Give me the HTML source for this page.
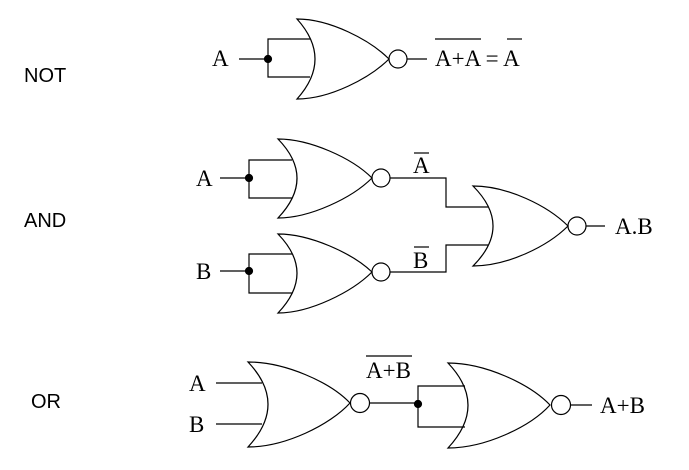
<!DOCTYPE html>
<html><head><style>
html,body{margin:0;padding:0;background:#fff;width:689px;height:470px;overflow:hidden}
svg{display:block}
.s{font-family:"Liberation Sans",sans-serif;font-size:20px}
.r{font-family:"Liberation Serif",serif;font-size:23px}
</style></head><body>
<svg width="689" height="470" viewBox="0 0 689 470" fill="none" stroke="#000" stroke-width="1.2">
<g fill="#000" stroke="none">
<text class="s" x="24" y="82">NOT</text>
<text class="s" x="24" y="227">AND</text>
<text class="s" x="31" y="408">OR</text>
</g>
<!-- NOT -->
<path d="M297,19 C330,19 370,40 389,59 C370,78 330,99 297,99 Q333,59 297,19Z"/>
<circle cx="398" cy="59" r="9"/>
<line x1="407" y1="59" x2="427" y2="59"/>
<line x1="239" y1="59" x2="268" y2="59"/>
<path d="M310,39 H268 V77 H310"/>
<circle cx="268" cy="59" r="3.5" fill="#000"/>
<g fill="#000" stroke="none">
<text class="r" x="212" y="66">A</text>
<text class="r" x="435" y="66">A+A = A</text>
</g>
<line x1="435" y1="39" x2="481" y2="39"/>
<line x1="507" y1="39" x2="522" y2="39"/>
<!-- AND gate1 -->
<path d="M278,139 C310,139 352,158 372,178 C352,198 310,218 278,218 Q316,178 278,139Z"/>
<circle cx="381" cy="178" r="9"/>
<path d="M390,178 H446 V207 H488"/>
<line x1="220" y1="178" x2="249" y2="178"/>
<path d="M292,160 H249 V198 H292"/>
<circle cx="249" cy="178" r="3.5" fill="#000"/>
<!-- gate2 -->
<path d="M278,234 C310,234 352,253 372,272 C352,292 310,313 278,313 Q316,273 278,234Z"/>
<circle cx="381" cy="272" r="9"/>
<path d="M390,272 H446 V245 H488"/>
<line x1="220" y1="271" x2="249" y2="271"/>
<path d="M292,254 H249 V293 H292"/>
<circle cx="249" cy="271" r="3.5" fill="#000"/>
<!-- gate3 -->
<path d="M473,186 C508,186 548,206 568,226 C548,246 508,266 473,266 Q513,226 473,186Z"/>
<circle cx="577" cy="226" r="9"/>
<line x1="586" y1="226" x2="605" y2="226"/>
<g fill="#000" stroke="none">
<text class="r" x="196" y="186">A</text>
<text class="r" x="196" y="279">B</text>
<text class="r" x="413" y="173">A</text>
<text class="r" x="413" y="268">B</text>
<text class="r" x="615" y="234">A.B</text>
</g>
<line x1="414" y1="153" x2="429" y2="153"/>
<line x1="414" y1="247" x2="429" y2="247"/>
<!-- OR -->
<path d="M248,362 C285,362 330,382 350,403 C330,425 285,447 248,447 Q288,404 248,362Z"/>
<circle cx="360" cy="403" r="9.5"/>
<line x1="369" y1="403" x2="418" y2="403"/>
<line x1="216" y1="383" x2="262" y2="383"/>
<line x1="216" y1="424" x2="262" y2="424"/>
<path d="M465,386 H418 V427 H465"/>
<circle cx="418" cy="404" r="3.5" fill="#000"/>
<path d="M448,363 C485,363 530,384 550,405 C530,427 485,448 448,448 Q488,405 448,363Z"/>
<circle cx="561" cy="405" r="9.5"/>
<line x1="570" y1="405" x2="592" y2="405"/>
<g fill="#000" stroke="none">
<text class="r" x="189" y="391">A</text>
<text class="r" x="189" y="432">B</text>
<text class="r" x="366" y="378">A+B</text>
<text class="r" x="600" y="413">A+B</text>
</g>
<line x1="366" y1="356" x2="412" y2="356"/>
</svg>
</body></html>
